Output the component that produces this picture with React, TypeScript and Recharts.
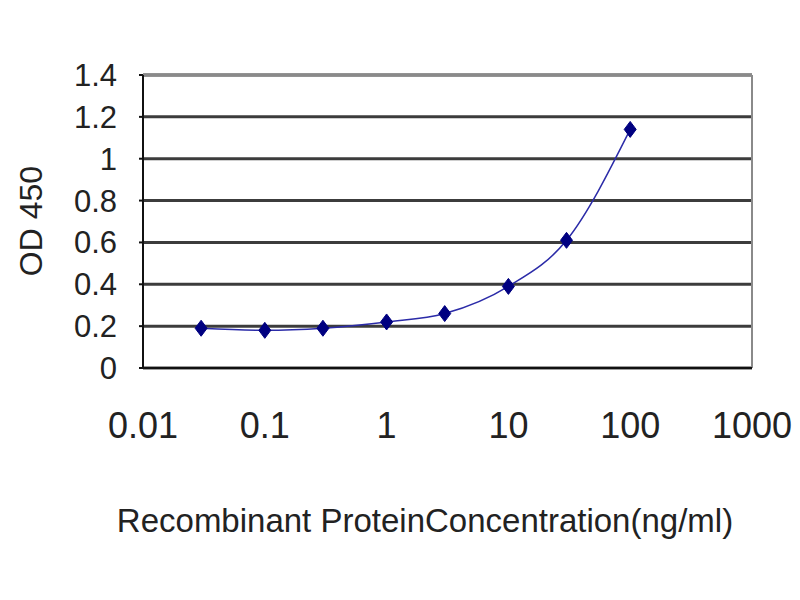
import { CartesianGrid, Line, LineChart, ReferenceLine, XAxis, YAxis } from "recharts";

const concentrations = [0.03, 0.1, 0.3, 1, 3, 10, 30, 100];
const odValues = [0.19, 0.18, 0.19, 0.22, 0.26, 0.39, 0.61, 1.14];
const xTicks = [0.01, 0.1, 1, 10, 100, 1000];
const yTicks = [0, 0.2, 0.4, 0.6, 0.8, 1, 1.2, 1.4];

const data = concentrations.map((conc, i) => ({ conc, od: odValues[i] }));

const font = "'Liberation Sans', Arial, sans-serif";

function Diamond({ cx, cy }: { cx?: number; cy?: number }) {
  if (typeof cx !== "number" || typeof cy !== "number") return null;
  return (
    <path
      d={`M${cx},${cy - 8} L${cx + 6},${cy} L${cx},${cy + 8} L${cx - 6},${cy} Z`}
      fill="#000080"
      stroke="#000080"
    />
  );
}

function YTitle() {
  return (
    <text
      transform="translate(31,221) rotate(-90)"
      textAnchor="middle"
      dominantBaseline="central"
      fontFamily={font}
      fontSize={32}
      fill="#222"
    >
      OD 450
    </text>
  );
}

function XTitle() {
  return (
    <text x={425} y={532} textAnchor="middle" fontFamily={font} fontSize={33} fill="#222">
      Recombinant ProteinConcentration(ng/ml)
    </text>
  );
}

export default function App() {
  return (
    <div style={{ position: "absolute", left: 0, top: 0, width: 800, height: 600, background: "#fff" }}>
      <LineChart width={800} height={600} data={data} margin={{ top: 75, right: 48, bottom: 0, left: 0 }}>
        <CartesianGrid vertical={false} stroke="#3c3c3c" strokeWidth={3} />
        <XAxis
          dataKey="conc"
          type="number"
          scale="log"
          domain={[0.01, 1000]}
          ticks={xTicks}
          allowDataOverflow
          height={232}
          tickLine={false}
          tickSize={0}
          tickMargin={44}
          axisLine={{ stroke: "#111", strokeWidth: 2 }}
          tick={{ fontFamily: font, fontSize: 36, fill: "#222" }}
          label={<XTitle />}
        />
        <YAxis
          type="number"
          domain={[0, 1.4]}
          ticks={yTicks}
          width={143}
          tickSize={4}
          tickMargin={22}
          axisLine={{ stroke: "#111", strokeWidth: 2 }}
          tickLine={{ stroke: "#111", strokeWidth: 2 }}
          tick={{ fontFamily: font, fontSize: 31, fill: "#222" }}
          label={<YTitle />}
        />
        <ReferenceLine y={1.4} stroke="#8a8a8a" strokeWidth={3} />
        <ReferenceLine x={1000} stroke="#8a8a8a" strokeWidth={2} />
        <Line
          type="monotone"
          dataKey="od"
          stroke="#2b2ba8"
          strokeWidth={1.5}
          dot={<Diamond />}
          activeDot={false}
          isAnimationActive={false}
        />
      </LineChart>
    </div>
  );
}
